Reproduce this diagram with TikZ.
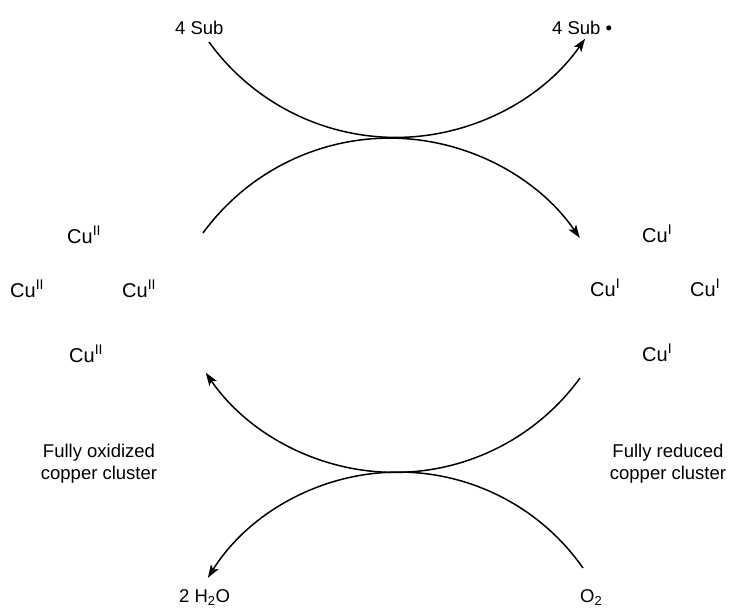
\documentclass[tikz,border=0pt]{standalone}
\usepackage{fontspec}
\setmainfont{Liberation Sans}
\usetikzlibrary{arrows.meta}
\begin{document}
\begin{tikzpicture}[x=1pt,y=-1pt,
  lbl/.style={inner sep=0pt,font=\fontsize{18.5}{22}\selectfont},
  cu/.style={inner sep=0pt,anchor=base west,font=\fontsize{20}{22}\selectfont},
  arc/.style={line width=1.5pt,-{Stealth[length=13pt,width=9pt,inset=3pt]}}]
\useasboundingbox (0,0) rectangle (729,610);
% substrate labels
\node[lbl,anchor=base west] (sub1) at (175,35) {4 Sub};
\node[lbl,anchor=base west] (sub2) at (552,35) {4 Sub •};
% oxidized cluster
\node[cu] (oa) at (67,243) {Cu\textsuperscript{II}};
\node[cu] (ob) at (10,297) {Cu\textsuperscript{II}};
\node[cu] (oc) at (122,297) {Cu\textsuperscript{II}};
\node[cu] (od) at (69,362) {Cu\textsuperscript{II}};
% reduced cluster
\node[cu] (ra) at (642,242) {Cu\textsuperscript{I}};
\node[cu] (rb) at (590,296) {Cu\textsuperscript{I}};
\node[cu] (rc) at (690,296) {Cu\textsuperscript{I}};
\node[cu] (rd) at (642,361) {Cu\textsuperscript{I}};
% captions
\node[lbl,align=center] (ox) at (99,464) {Fully oxidized\\copper cluster};
\node[lbl,align=center] (re) at (668,464) {Fully reduced\\copper cluster};
% water / oxygen
\node[lbl,anchor=base west] (w) at (179,602) {2 H\textsubscript{2}O};
\node[lbl,anchor=base west] (o2) at (580,602) {O\textsubscript{2}};
% arc end points
\coordinate (s1) at (209,42);
\coordinate (s2) at (203,233);
\coordinate (s3) at (580,378);
\coordinate (s4) at (583,568);
% arcs
\draw[arc] (s1) arc[start angle=144.1,end angle=34.9,radius=230.7];
\draw[arc] (s2) arc[start angle=216.1,end angle=325.4,radius=231];
\draw[arc] (s3) arc[start angle=36,end angle=145.6,radius=229];
\draw[arc] (s4) arc[start angle=325,end angle=212,radius=225];
\end{tikzpicture}
\end{document}
